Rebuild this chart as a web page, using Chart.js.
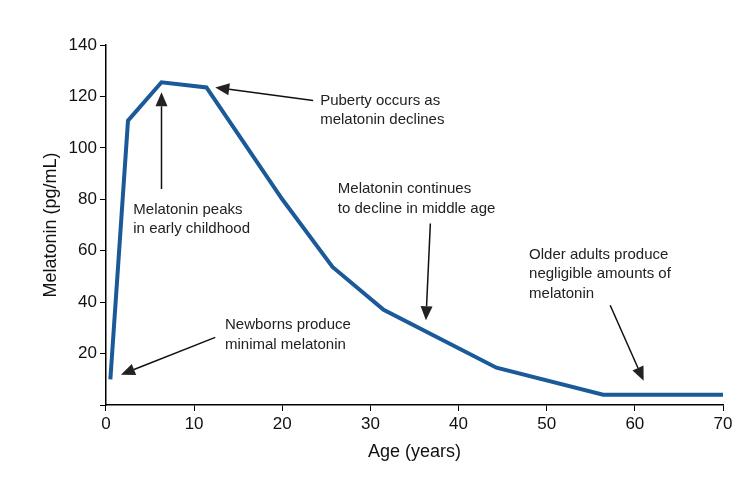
<!DOCTYPE html>
<html><head><script src="https://cdn.jsdelivr.net/npm/chart.js@4"></script>
<style>body{margin:0;background:#fff}#w{width:743px;height:485px}</style></head>
<body><div id="w"><canvas id="c"></canvas></div>
<script>
const ages=[0.5,2.5,6.3,11.4,20,25.7,31.5,44.3,56.4,70];
const melatonin=[10,110.6,125.5,123.5,80,53.7,37,14.5,4,4];
const yTicks=[0,20,40,60,80,100,120,140];
const xTicks=[0,10,20,30,40,50,60,70];
const notes=[
 {lines:["Melatonin peaks","in early childhood"],x:3.1,y:76,from:[6.3,84],to:[6.3,121.6]},
 {lines:["Puberty occurs as","melatonin declines"],x:24.3,y:118.4,from:[23.5,118.4],to:[12.4,123.5]},
 {lines:["Melatonin continues","to decline in middle age"],x:26.3,y:83.9,from:[36.8,70.6],to:[36.3,33]},
 {lines:["Older adults produce","negligible amounts of","melatonin"],x:48,y:58.4,from:[57.2,38.8],to:[61,9.4]},
 {lines:["Newborns produce","minimal melatonin"],x:13.5,y:31,from:[12.4,26.3],to:[1.7,11.8]}
];
const ann={id:'ann',afterDatasetsDraw(ch){
 const c=ch.ctx,xs=ch.scales.x,ys=ch.scales.y;
 c.save();c.fillStyle='#222';c.strokeStyle='#111';c.lineWidth=1.5;
 c.font='15px "Liberation Sans", Arial';c.textBaseline='middle';
 notes.forEach(n=>{
  const px=xs.getPixelForValue(n.x),py=ys.getPixelForValue(n.y);
  n.lines.forEach((l,i)=>c.fillText(l,px,py+i*19.5));
  const x1=xs.getPixelForValue(n.from[0]),y1=ys.getPixelForValue(n.from[1]);
  const x2=xs.getPixelForValue(n.to[0]),y2=ys.getPixelForValue(n.to[1]);
  const a=Math.atan2(y2-y1,x2-x1),L=14,W=6;
  const bx=x2-L*Math.cos(a),by=y2-L*Math.sin(a);
  c.beginPath();c.moveTo(x1,y1);c.lineTo(bx,by);c.stroke();
  c.beginPath();c.moveTo(x2,y2);
  c.lineTo(bx+W*Math.sin(a),by-W*Math.cos(a));
  c.lineTo(bx-W*Math.sin(a),by+W*Math.cos(a));c.closePath();c.fill();
 });
 c.restore();
}};
new Chart(document.getElementById('c'),{
 type:'line',
 data:{datasets:[{data:ages.map((a,i)=>({x:a,y:melatonin[i]})),borderColor:'#1a5a99',borderWidth:4,pointRadius:0,tension:0,borderJoinStyle:'miter'}]},
 options:{responsive:true,maintainAspectRatio:false,animation:false,
  layout:{padding:{top:45,right:20,left:36,bottom:18}},
  plugins:{legend:{display:false},tooltip:{enabled:false}},
  scales:{
   x:{type:'linear',min:0,max:70,afterBuildTicks:s=>{s.ticks=xTicks.map(v=>({value:v}))},
    grid:{display:true,drawOnChartArea:false,drawTicks:true,tickLength:6,color:'#000'},border:{color:'#000',width:1.5},
    ticks:{color:'#111',font:{size:17,family:'"Liberation Sans", Arial'},maxRotation:0},
    title:{display:true,text:'Age (years)',color:'#111',font:{size:18,family:'"Liberation Sans", Arial'}}},
   y:{min:0,max:140,afterBuildTicks:s=>{s.ticks=yTicks.map(v=>({value:v}))},
    grid:{display:true,drawOnChartArea:false,tickLength:6,color:'#000'},border:{color:'#000',width:1.5},
    ticks:{color:'#111',font:{size:17,family:'"Liberation Sans", Arial'},callback:v=>v===0?'':v},
    title:{display:true,text:'Melatonin (pg/mL)',color:'#111',font:{size:18,family:'"Liberation Sans", Arial'}}}
  }},
 plugins:[ann]
});
</script></body></html>
